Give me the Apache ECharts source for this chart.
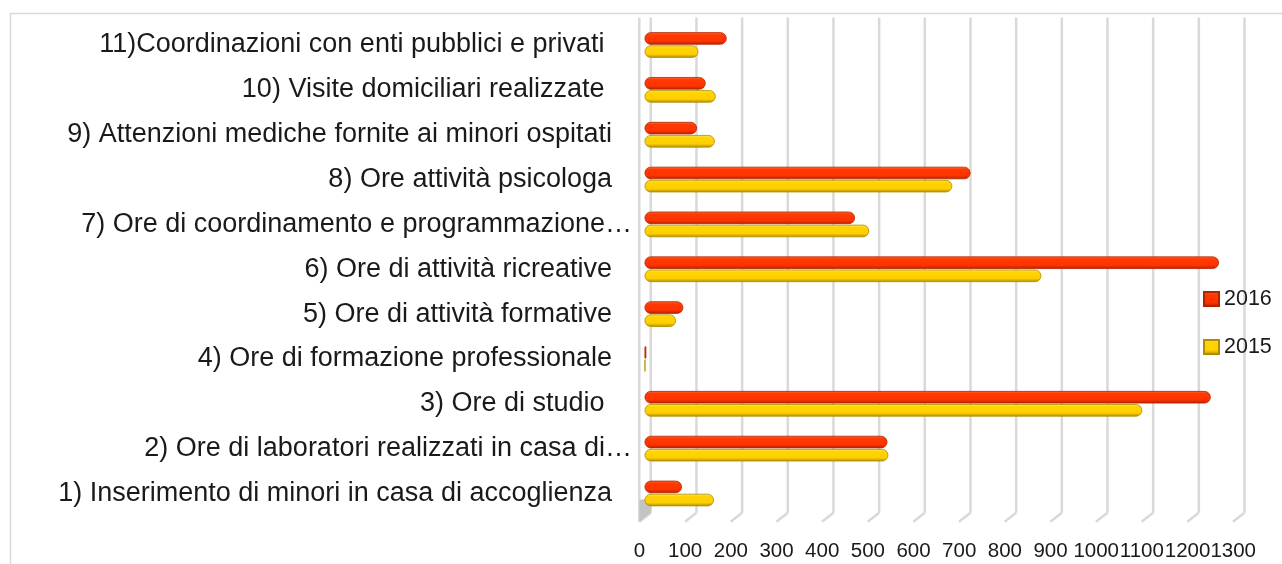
<!DOCTYPE html>
<html>
<head>
<meta charset="utf-8">
<script src="https://cdn.jsdelivr.net/npm/echarts@6/dist/echarts.min.js"></script>
<style>
html,body{margin:0;padding:0;background:#fff;}
#chart{width:1282px;height:564px;}
</style>
</head>
<body>
<div id="chart"></div>
<script>
const categories = [
  "1) Inserimento di minori in casa di accoglienza",
  "2) Ore di laboratori realizzati in casa di…",
  "3) Ore di studio ",
  "4) Ore di formazione professionale",
  "5) Ore di attività formative",
  "6) Ore di attività ricreative",
  "7) Ore di coordinamento e programmazione…",
  "8) Ore attività psicologa",
  "9) Attenzioni mediche fornite ai minori ospitati",
  "10) Visite domiciliari realizzate ",
  "11)Coordinazioni con enti pubblici e privati "
];
const values2016 = [82, 532, 1240, 4, 85, 1258, 461, 714, 115, 134, 180];
const values2015 = [152, 534, 1090, 2, 69, 869, 492, 674, 154, 156, 118];
const seriesNames = ["2016", "2015"];
const gridTicks = [0, 100, 200, 300, 400, 500, 600, 700, 800, 900, 1000, 1100, 1200, 1300];

const FONT = "Liberation Sans";

function grad(c0, c1, c2, c3) {
  return new echarts.graphic.LinearGradient(0, 0, 0, 1, [
    {offset: 0, color: c0},
    {offset: 0.2, color: c1},
    {offset: 0.7, color: c2},
    {offset: 1, color: c3}
  ]);
}
const red = grad('#ff7040', '#ff3a00', '#ff3300', '#b02400');
const yellow = grad('#ffe870', '#ffd400', '#ffcf00', '#b08c00');

const chart = echarts.init(document.getElementById('chart'), null, {renderer: 'canvas'});

const option = {
  animation: false,
  backgroundColor: '#fff',
  textStyle: {fontFamily: FONT},
  graphic: [{
    type: 'rect', left: 8, top: 11, silent: true, z: -10,
    shape: {width: 1400, height: 700},
    style: {fill: 'none', stroke: '#d9d9d9', lineWidth: 1.5}
  }],
  grid: {left: 644.5, right: 43.8, top: 22.6, bottom: 48.1, containLabel: false},
  legend: {
    data: seriesNames,
    orient: 'vertical',
    left: 1203, top: 288, padding: 0,
    itemWidth: 15, itemHeight: 14, itemGap: 26,
    icon: 'rect',
    textStyle: {fontFamily: FONT, fontSize: 21.5, color: '#1a1a1a', lineHeight: 21}
  },
  xAxis: {
    type: 'value', min: 0, max: 1300, interval: 100,
    axisLine: {show: false}, axisTick: {show: false}, splitLine: {show: false},
    axisLabel: {
      fontFamily: FONT, fontSize: 20.5, color: '#1a1a1a', margin: 25, padding: [0, 10, 0, 0],
      showMinLabel: true, showMaxLabel: true, hideOverlap: false,
      formatter: function (v) { return String(v); }
    }
  },
  yAxis: {
    type: 'category', data: categories,
    axisLine: {show: false}, axisTick: {show: false}, splitLine: {show: false},
    axisLabel: {
      margin: 12.5,
      formatter: function (v) {
        return v.endsWith('…') ? '{e|' + v + '}' : '{n|' + v + '}';
      },
      rich: {
        n: {fontFamily: FONT, fontSize: 27, color: '#1a1a1a', padding: [0, 20, 0, 0]},
        e: {fontFamily: FONT, fontSize: 27, color: '#1a1a1a'}
      }
    }
  },
  series: [
    {
      type: 'custom', silent: true, z: 1,
      data: gridTicks.map(v => [v]),
      encode: {x: 0},
      renderItem: function (params, api) {
        const v = api.value(0);
        const cs = params.coordSys;
        const p = api.coord([v, 0]);
        const xf = p[0] - 5.2, xb = p[0] + 6.3;
        const yTop = cs.y - 5;
        const yBB = cs.y + cs.height - 3.2;
        const yBF = cs.y + cs.height + 5.8;
        const st = {stroke: '#d9d9d9', lineWidth: 2.5};
        const ch = [
          {type: 'line', shape: {x1: xb, y1: yTop, x2: xb, y2: yBB}, style: st},
          {type: 'line', shape: {x1: xb, y1: yBB, x2: xf, y2: yBF}, style: st}
        ];
        if (v === 0) {
          ch.push({type: 'line', shape: {x1: xf, y1: yTop, x2: xf, y2: yBF}, style: st});
          ch.push({type: 'polygon', shape: {points: [[xf, yBF - 22], [xb, yBB - 14], [xb, yBB], [xf, yBF]]},
            style: {fill: '#c4c4c4'}});
        }
        return {type: 'group', children: ch};
      }
    },
    {
      name: '2016', type: 'bar', data: values2016, z: 3,
      barWidth: 12.5, barGap: '5%',
      itemStyle: {color: red, borderRadius: 6, borderColor: '#b02400', borderWidth: 0.8}
    },
    {
      name: '2015', type: 'bar', data: values2015, z: 3,
      barWidth: 12.5, barGap: '5%',
      itemStyle: {color: yellow, borderRadius: 6, borderColor: '#b08c00', borderWidth: 0.8}
    }
  ]
};
chart.setOption(option);
</script>
</body>
</html>
